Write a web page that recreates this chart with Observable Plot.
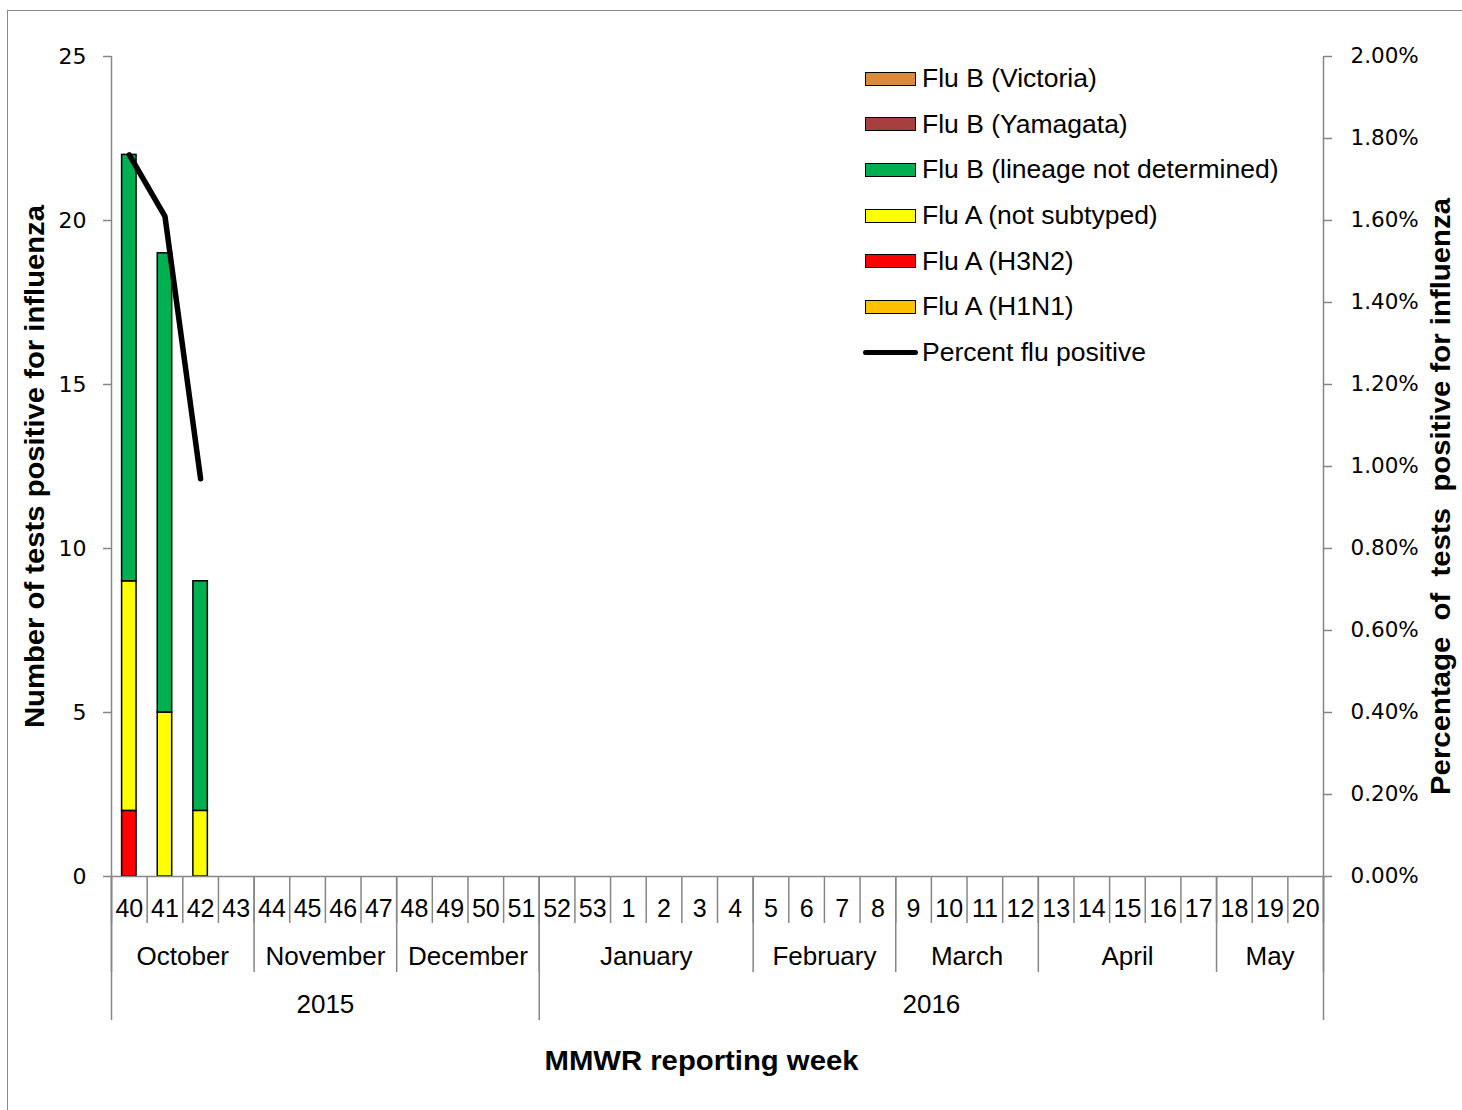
<!DOCTYPE html>
<html>
<head>
<meta charset="utf-8">
<script src="https://cdn.jsdelivr.net/npm/d3@7"></script>
<script src="https://cdn.jsdelivr.net/npm/@observablehq/plot@0.6"></script>
<style>
  body { margin: 0; background: #fff; }
  #wrap { position: relative; width: 1462px; height: 1110px; overflow: hidden; background: #fff; }
  #frame { position: absolute; left: 7px; top: 10px; width: 1500px; height: 1200px;
           border-left: 1.5px solid #8a8a8a; border-top: 1.5px solid #8a8a8a; }
  #chart { position: absolute; left: 0; top: 0; }
  #legend { position: absolute; left: 863px; top: 56px;
            font-family: "Liberation Sans", Arial, sans-serif; font-size: 26.5px; color: #000; }
  .row { display: flex; align-items: center; height: 45.6px; white-space: nowrap; }
  .sw { box-sizing: border-box; width: 51px; height: 14px; border: 1.5px solid #000; margin-left: 2px; margin-right: 6px; }
  .ln { width: 55px; height: 5px; background: #000; border-radius: 3px; margin-right: 4px; }
</style>
</head>
<body>
<div id="wrap">
  <div id="frame"></div>
  <div id="chart"></div>
  <div id="legend"></div>
</div>
<script>
// ---- Data ----
const weeks = ["40","41","42","43","44","45","46","47","48","49","50","51","52","53",
               "1","2","3","4","5","6","7","8","9","10","11","12","13","14","15","16","17","18","19","20"];
const months = ["October","November","December","January","February","March","April","May"];
const monthWeekCounts = [4, 4, 4, 6, 4, 4, 5, 3];
const years = ["2015", "2016"];
const yearWeekCounts = [12, 22];

const seriesNames = ["Flu A (H1N1)", "Flu A (H3N2)", "Flu A (not subtyped)",
                     "Flu B (lineage not determined)", "Flu B (Yamagata)", "Flu B (Victoria)"];
const seriesColors = ["#FFC000", "#FF0000", "#FFFF00", "#00B050", "#A5403F", "#DA8A3F"];

const dataWeeks = ["40", "41", "42"];
const fluAH1N1 = [0, 0, 0];
const fluAH3N2 = [2, 0, 0];
const fluANotSubtyped = [7, 5, 2];
const fluBNotDetermined = [13, 14, 7];
const fluBYamagata = [0, 0, 0];
const fluBVictoria = [0, 0, 0];
const percentPositive = [1.76, 1.61, 0.97];

const countTicks = [0, 5, 10, 15, 20, 25];
const percentTicks = [0, 0.2, 0.4, 0.6, 0.8, 1.0, 1.2, 1.4, 1.6, 1.8, 2.0];
const countMax = 25, percentMax = 2.0;
const legendLineLabel = "Percent flu positive";

// ---- Derived tables ----
const seriesValues = [fluAH1N1, fluAH3N2, fluANotSubtyped, fluBNotDetermined, fluBYamagata, fluBVictoria];
const rects = [];
dataWeeks.forEach((w, j) => {
  const i = weeks.indexOf(w);
  let cum = 0;
  seriesValues.forEach((vals, s) => {
    const v = vals[j];
    if (v > 0) rects.push({x1: i, x2: i + 1, y1: cum, y2: cum + v, series: seriesNames[s]});
    cum += v;
  });
});
const lineRows = dataWeeks.map((w, j) => ({x: weeks.indexOf(w) + 0.5, y: percentPositive[j] * countMax / percentMax}));

const cum = arr => arr.reduce((a, v) => (a.push(a[a.length - 1] + v), a), [0]);
const monthBounds = cum(monthWeekCounts);
const yearBounds = cum(yearWeekCounts);
const weekCenters = weeks.map((w, i) => i + 0.5);
const monthCenters = months.map((m, i) => monthBounds[i] + monthWeekCounts[i] / 2);
const yearCenters = years.map((y, i) => yearBounds[i] + yearWeekCounts[i] / 2);
const monthAt = new Map(monthCenters.map((c, i) => [c, months[i]]));
const yearAt = new Map(yearCenters.map((c, i) => [c, years[i]]));

const gray = "#868686";
const tickFont = "DejaVu Sans, Verdana, sans-serif";

const chart = Plot.plot({
  width: 1462, height: 1110,
  marginLeft: 111, marginRight: 139, marginTop: 56, marginBottom: 234,
  x: {domain: [0, weeks.length], axis: null},
  y: {domain: [0, countMax], axis: null},
  color: {domain: seriesNames, range: seriesColors},
  style: {fontFamily: "Liberation Sans, Arial, sans-serif", fontSize: "25px", color: "#000", background: "transparent", overflow: "visible"},
  marks: [
    Plot.rectY(rects, {x1: "x1", x2: "x2", y1: "y1", y2: "y2", fill: "series", stroke: "#000", strokeWidth: 1.5, insetLeft: 10.6, insetRight: 10.6}),
    Plot.ruleX([0, weeks.length], {stroke: gray, strokeWidth: 1.5}),
    Plot.ruleY([0], {stroke: gray, strokeWidth: 1.5}),
    // left axis
    Plot.axisY(countTicks, {anchor: "left", tickSize: 8, tickPadding: 17, stroke: gray, strokeWidth: 1.5, fill: "#000", fontFamily: tickFont, fontSize: 22, label: null}),
    // right axis (percent)
    Plot.axisY(percentTicks.map(p => p * countMax / percentMax), {anchor: "right", tickSize: 8, tickPadding: 19, stroke: gray, strokeWidth: 1.5, fill: "#000", fontFamily: tickFont, fontSize: 21.5, label: null,
      tickFormat: d => (d * percentMax / countMax).toFixed(2) + "%"}),
    // x separators
    Plot.axisX(d3.range(weeks.length + 1), {anchor: "bottom", tickSize: 47, stroke: gray, strokeWidth: 1.5, tickFormat: () => "", label: null}),
    Plot.axisX(monthBounds, {anchor: "bottom", tickSize: 96, stroke: gray, strokeWidth: 1.5, tickFormat: () => "", label: null}),
    Plot.axisX(yearBounds, {anchor: "bottom", tickSize: 144, stroke: gray, strokeWidth: 1.5, tickFormat: () => "", label: null}),
    // x labels
    Plot.axisX(weekCenters, {anchor: "bottom", tickSize: 0, tickPadding: 23, fontSize: 25, fill: "#000", tickFormat: d => weeks[Math.floor(d)], label: null}),
    Plot.axisX(monthCenters, {anchor: "bottom", tickSize: 0, tickPadding: 70, fontSize: 26, fill: "#000", tickFormat: d => monthAt.get(d), label: null}),
    Plot.axisX(yearCenters, {anchor: "bottom", tickSize: 0, tickPadding: 118, fontSize: 26, fill: "#000", tickFormat: d => yearAt.get(d), label: null}),
    // percent line
    Plot.line(lineRows, {x: "x", y: "y", stroke: "#000", strokeWidth: 5.5, strokeLinecap: "round", strokeLinejoin: "round"}),
    // titles
    Plot.text(["Number of tests positive for influenza"], {frameAnchor: "left", textAnchor: "middle", rotate: -90, dx: -76, fontWeight: "bold", fontSize: 27, fill: "#000", className: "ytitle-left"}),
    Plot.text(["Percentage  of  tests  positive for influenza"], {frameAnchor: "right", textAnchor: "middle", rotate: -90, dx: 118, dy: 30, fontWeight: "bold", fontSize: 27, fill: "#000", className: "ytitle-right"}),
    Plot.text(["MMWR reporting week"], {frameAnchor: "bottom", dx: -16, dy: 193, fontWeight: "bold", fontSize: 28, fill: "#000", className: "xtitle"})
  ]
});
document.getElementById("chart").appendChild(chart);

// adjust title lengths
d3.select(chart).selectAll(".ytitle-left text").attr("textLength", 523).attr("lengthAdjust", "spacingAndGlyphs");
d3.select(chart).selectAll(".ytitle-right text").attr("textLength", 597).attr("lengthAdjust", "spacingAndGlyphs").style("white-space", "pre");
d3.select(chart).selectAll(".xtitle text").attr("textLength", 314).attr("lengthAdjust", "spacingAndGlyphs");

// legend (top to bottom: reversed stacking order, then line)
const legend = d3.select("#legend");
seriesNames.slice().reverse().forEach((name, k) => {
  const idx = seriesNames.length - 1 - k;
  const row = legend.append("div").attr("class", "row");
  row.append("div").attr("class", "sw").style("background", seriesColors[idx]);
  row.append("span").text(name);
});
const lrow = legend.append("div").attr("class", "row");
lrow.append("div").attr("class", "ln");
lrow.append("span").text(legendLineLabel);
</script>
</body>
</html>
